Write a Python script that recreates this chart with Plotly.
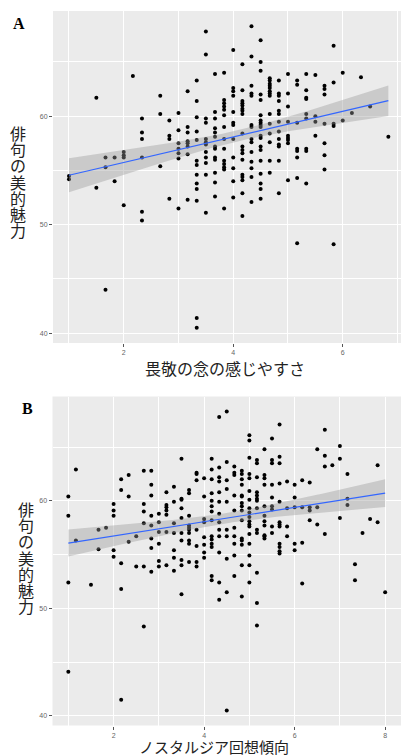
import numpy as np
import plotly.graph_objects as go

# ---------------- Panel A: 畏敬の念の感じやすさ vs 俳句の美的魅力 ----------------
a_x_levels = [1.0, 1.5, 1.667, 1.833, 2.0, 2.167, 2.333, 2.667, 2.833, 3.0, 3.167,
              3.333, 3.5, 3.667, 3.833, 4.0, 4.167, 4.333, 4.5, 4.667, 4.833, 5.0,
              5.167, 5.333, 5.5, 5.667, 5.833, 6.0, 6.167, 6.333, 6.5, 6.833]
a_y_by_level = [
    [54.2, 54.5],
    [61.7, 53.4],
    [56.2, 55.3, 44.0],
    [56.2, 54.0],
    [56.7, 56.4, 56.2, 51.8],
    [63.7],
    [59.8, 58.5, 57.9, 56.2, 51.2, 50.4],
    [61.9, 60.2, 55.4],
    [59.6, 58.2, 57.9, 52.4],
    [60.3, 58.7, 57.5, 57.0, 56.6, 56.1, 51.5],
    [62.3, 59.0, 58.5, 57.7, 57.5, 57.2, 56.5, 52.3],
    [63.3, 61.4, 59.9, 58.6, 57.8, 55.9, 55.5, 54.6, 53.8, 53.3, 52.2, 41.4, 40.5],
    [67.8, 65.7, 59.8, 59.4, 57.9, 57.6, 57.4, 56.7, 56.2, 55.7, 54.6, 51.1],
    [63.9, 60.4, 59.8, 58.9, 58.5, 58.1, 57.2, 57.0, 56.2, 56.0, 54.8, 53.9, 52.6],
    [64.0, 61.5, 61.2, 60.9, 60.6, 60.1, 59.0, 57.9, 57.0, 55.9, 55.6, 55.3, 55.1, 51.5],
    [66.1, 62.6, 62.3, 61.9, 60.4, 59.4, 59.2, 57.9, 56.2, 55.2, 54.0, 52.5],
    [64.8, 62.4, 61.4, 61.2, 61.0, 60.7, 60.5, 60.2, 58.4, 57.2, 56.9, 56.6, 56.0,
     54.6, 54.4, 54.1, 52.9, 50.8],
    [68.3, 65.5, 62.8, 62.1, 61.9, 59.2, 59.0, 57.9, 57.6, 56.7, 55.8, 55.2, 54.4, 52.1],
    [67.0, 65.0, 64.2, 62.0, 61.5, 60.1, 59.6, 59.4, 59.2, 59.0, 58.2, 58.0, 57.2,
     56.9, 55.9, 54.7, 53.8, 53.3, 52.4],
    [63.5, 63.3, 63.0, 62.8, 62.6, 62.3, 62.1, 61.9, 60.2, 59.3, 58.4, 57.6, 55.9, 54.8],
    [63.3, 62.1, 61.9, 61.4, 60.5, 60.2, 59.5, 58.6, 57.9, 57.4, 57.2, 55.9, 52.9],
    [63.9, 62.1, 60.9, 59.5, 58.2, 58.0, 57.8, 57.5, 54.1],
    [63.3, 62.9, 59.4, 57.0, 56.8, 56.2, 54.3, 48.3],
    [63.9, 62.4, 61.7, 61.6, 60.2, 59.8, 57.0, 56.8, 53.8],
    [63.8, 60.0, 59.5, 58.2],
    [62.8, 62.5, 62.0, 59.3, 57.5, 56.4, 55.1],
    [66.5, 63.1, 59.3, 59.1, 48.2],
    [64.0, 59.6],
    [60.3],
    [63.6],
    [60.9],
    [58.1],
]

# ---------------- Panel B: ノスタルジア回想傾向 vs 俳句の美的魅力 ----------------
b_x_levels = [1.0, 1.167, 1.5, 1.667, 1.833, 2.0, 2.167, 2.333, 2.5, 2.667, 2.833,
              3.0, 3.167, 3.333, 3.5, 3.667, 3.833, 4.0, 4.167, 4.333, 4.5, 4.667,
              4.833, 5.0, 5.167, 5.333, 5.5, 5.667, 5.833, 6.0, 6.167, 6.333, 6.5,
              6.667, 6.833, 7.0, 7.167, 7.333, 7.5, 7.667, 7.833, 8.0]
b_y_by_level = [
    [60.4, 58.6, 52.4, 44.1],
    [62.9, 56.3],
    [52.2],
    [57.3, 55.5],
    [57.5],
    [59.7, 59.1, 58.6, 55.4, 54.8],
    [62.0, 61.0, 54.2, 51.8, 41.5],
    [62.4, 60.4, 56.2],
    [56.7, 53.9],
    [62.8, 59.7, 59.0, 57.9, 53.9, 48.3],
    [62.8, 61.5, 60.5, 58.6, 57.7, 56.5, 55.6, 53.4],
    [58.8, 58.0, 57.1, 56.0, 54.4, 53.9],
    [60.8, 59.6, 59.4, 59.1, 58.7, 57.1, 54.0],
    [61.3, 59.9, 57.9, 57.0, 55.4, 54.7, 53.5],
    [63.9, 60.2, 60.1, 59.3, 58.4, 57.0, 56.3, 54.5, 54.0, 51.3],
    [61.0, 60.7, 58.6, 57.7, 57.5, 57.3, 57.0, 56.3, 56.0, 54.3],
    [62.6, 62.5, 61.9, 57.3, 55.8, 54.3, 53.9],
    [62.1, 60.4, 58.3, 58.0, 56.6, 55.9, 55.2, 54.7],
    [63.9, 62.9, 62.0, 60.7, 60.0, 59.5, 59.0, 58.2, 56.7, 56.4, 56.0, 55.7, 53.0, 52.6],
    [67.8, 63.1, 62.2, 61.8, 60.8, 59.9, 58.8, 58.0, 57.3, 56.7, 55.2, 52.4, 50.8],
    [68.3, 63.6, 61.9, 61.1, 59.9, 57.3, 56.7, 54.6, 51.5, 40.5],
    [63.2, 62.6, 62.4, 60.5, 59.1, 57.5, 56.7, 56.0, 54.9, 53.0],
    [62.8, 62.5, 62.0, 61.5, 60.5, 60.4, 59.8, 59.5, 59.1, 58.2, 56.5, 56.3, 55.9,
     54.0, 51.1],
    [66.1, 65.6, 64.0, 62.5, 62.1, 60.9, 60.1, 59.3, 58.9, 58.5, 58.1, 57.8, 57.6,
     56.9, 56.0, 54.9, 54.0, 52.4],
    [63.8, 63.5, 62.2, 60.8, 60.5, 60.2, 60.0, 59.3, 57.3, 57.0, 53.3, 50.5, 48.4],
    [64.8, 62.4, 62.1, 61.5, 59.5, 58.6, 58.1, 57.7, 56.8, 56.7, 56.5],
    [65.8, 63.8, 63.5, 61.5, 60.3, 59.5, 59.2, 57.6, 57.0],
    [67.1, 64.1, 63.5, 61.6, 59.9, 58.0, 57.8, 57.6, 56.0, 55.7, 55.3, 55.1],
    [61.8, 59.3, 57.6, 56.7],
    [61.5, 60.3, 59.4, 56.0, 55.4],
    [61.9, 59.4, 56.1, 52.3],
    [61.7, 59.4, 59.1, 58.2],
    [64.8, 59.4, 57.8],
    [66.6, 64.2, 63.2, 56.9],
    [63.3],
    [65.1, 63.9, 58.4],
    [62.5, 60.2, 59.6],
    [54.1, 52.6],
    [57.0],
    [58.3],
    [63.3, 58.0],
    [51.5],
]

y_ticks = [40, 50, 60]
a_x_ticks = [2, 4, 6]
b_x_ticks = [2, 4, 6, 8]

panel_labels = ["A", "B"]
a_x_title = "畏敬の念の感じやすさ"
b_x_title = "ノスタルジア回想傾向"
y_title = "俳句の美的魅力"


def expand(levels, groups):
    xs, ys = [], []
    for lv, g in zip(levels, groups):
        for v in g:
            xs.append(lv)
            ys.append(v)
    return np.array(xs), np.array(ys)


def smooth(x, y, n=80):
    slope, intercept = np.polyfit(x, y, 1)
    xs = np.linspace(x.min(), x.max(), n)
    fit = intercept + slope * xs
    resid = y - (intercept + slope * x)
    dof = len(x) - 2
    s = np.sqrt(np.sum(resid ** 2) / dof)
    sxx = np.sum((x - x.mean()) ** 2)
    se = s * np.sqrt(1.0 / len(x) + (xs - x.mean()) ** 2 / sxx)
    t = 1.968
    return xs, fit, fit + t * se, fit - t * se


W, H = 401, 756
fig = go.Figure()

panels = [
    (a_x_levels, a_y_by_level, "x", "y"),
    (b_x_levels, b_y_by_level, "x2", "y2"),
]
for levels, groups, xa, ya in panels:
    x, y = expand(levels, groups)
    fig.add_trace(go.Scatter(x=x, y=y, mode="markers", xaxis=xa, yaxis=ya,
                             marker=dict(color="black", size=4), hoverinfo="skip",
                             showlegend=False))
    xs, fit, up, lo = smooth(x, y)
    fig.add_trace(go.Scatter(x=np.concatenate([xs, xs[::-1]]),
                             y=np.concatenate([up, lo[::-1]]),
                             fill="toself", fillcolor="rgba(153,153,153,0.4)",
                             line=dict(width=0), mode="lines", xaxis=xa, yaxis=ya,
                             hoverinfo="skip", showlegend=False))
    fig.add_trace(go.Scatter(x=xs, y=fit, mode="lines", xaxis=xa, yaxis=ya,
                             line=dict(color="#3366FF", width=1.2),
                             hoverinfo="skip", showlegend=False))

tickfont = dict(family="Liberation Sans, Arial, sans-serif", size=7, color="#666666")
common_x = dict(showgrid=True, gridcolor="white", gridwidth=1, zeroline=False,
                showline=False, ticks="outside", ticklen=3, tickwidth=0.8,
                tickcolor="#555555", tickfont=tickfont,
                minor=dict(dtick=1, tick0=0, showgrid=True, gridcolor="white",
                           gridwidth=0.5, ticklen=0))
common_y = dict(showgrid=True, gridcolor="white", gridwidth=1, zeroline=False,
                showline=False, ticks="outside", ticklen=3, tickwidth=0.8,
                tickcolor="#555555", tickfont=tickfont,
                tickvals=y_ticks, range=[39.1, 69.7],
                minor=dict(dtick=5, tick0=0, showgrid=True, gridcolor="white",
                           gridwidth=0.5, ticklen=0))

fig.update_layout(
    width=W, height=H,
    margin=dict(l=0, r=0, t=0, b=0),
    paper_bgcolor="white",
    plot_bgcolor="#EBEBEB",
    xaxis=dict(domain=[53 / W, 1], range=[0.708, 7.064], tickvals=a_x_ticks,
               anchor="y", **common_x),
    yaxis=dict(domain=[1 - 343 / H, 1 - 11 / H], anchor="x", **common_y),
    xaxis2=dict(domain=[52.5 / W, 1], range=[0.65, 8.35], tickvals=b_x_ticks,
                anchor="y2", **common_x),
    yaxis2=dict(domain=[1 - 725.5 / H, 1 - 396.5 / H], anchor="x2", **common_y),
)

cjk = "Noto Sans CJK JP, sans-serif"
annotations = []


def px_ann(text, cx, cy, size, family, color="#222222"):
    annotations.append(dict(text=text, x=cx / W, y=1 - cy / H, xref="paper",
                            yref="paper", showarrow=False, xanchor="center",
                            yanchor="middle",
                            font=dict(family=family, size=size, color=color)))


serif = "Liberation Serif, DejaVu Serif, serif"
px_ann("<b>%s</b>" % panel_labels[0], 19, 23.5, 16, serif, "black")
px_ann("<b>%s</b>" % panel_labels[1], 27.5, 408, 16, serif, "black")

px_ann(a_x_title, 224.5, 368, 16, cjk)
px_ann(b_x_title, 213.5, 746, 15, cjk)

for cx, cy0 in [(17.5, 133), (25.8, 509)]:
    for i, ch in enumerate(y_title):
        px_ann(ch, cx, cy0 + i * 16.2, 16, cjk)

fig.update_layout(annotations=annotations)
fig.write_html("out.html", config=dict(displayModeBar=False),
               post_script="document.body.style.margin='0';"
                           "document.body.style.overflow='hidden';")
